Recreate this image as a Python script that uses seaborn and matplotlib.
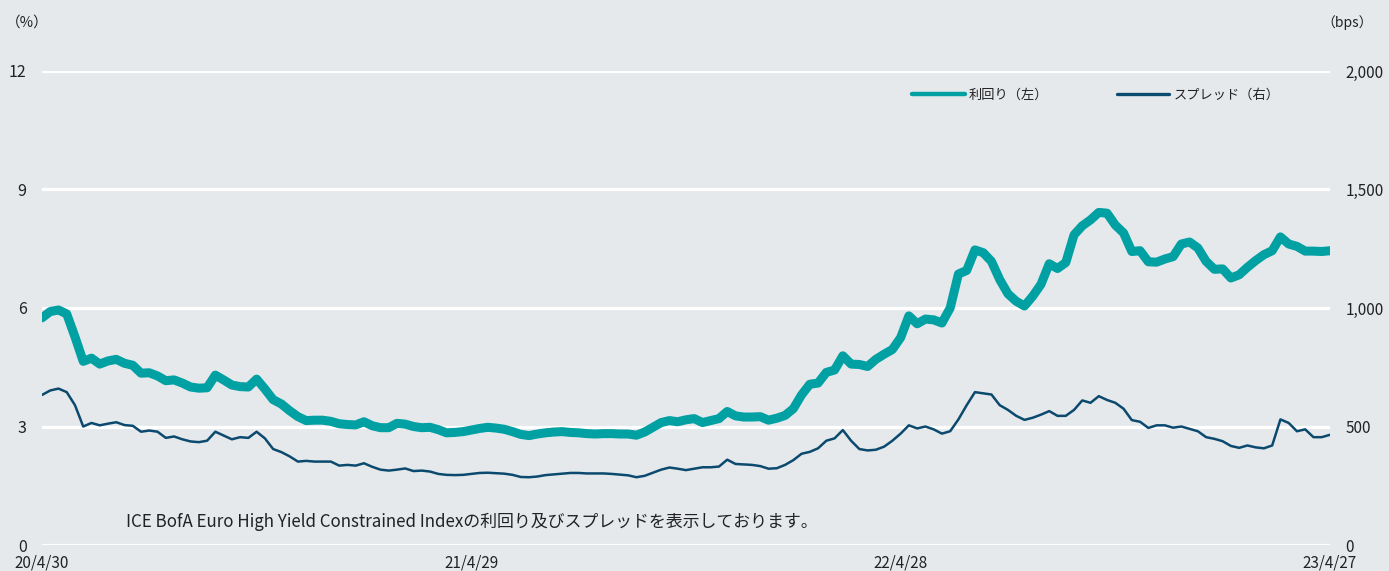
import matplotlib
matplotlib.use("Agg")
import matplotlib.pyplot as plt
from matplotlib.lines import Line2D
import seaborn as sns
import pandas as pd

# weekly observations, 2020/4/30 - 2023/4/27
dates = pd.date_range("2020-04-30", "2023-04-27", freq="7D")

yield_pct = [
    5.75, 5.91, 5.95, 5.85, 5.27, 4.65, 4.73, 4.58, 4.66, 4.70,
    4.60, 4.55, 4.35, 4.36, 4.28, 4.16, 4.18, 4.10, 4.00, 3.97,
    3.98, 4.30, 4.18, 4.05, 4.01, 4.00, 4.20, 3.95, 3.68, 3.57,
    3.40, 3.25, 3.15, 3.16, 3.16, 3.13, 3.07, 3.05, 3.04, 3.12,
    3.02, 2.97, 2.97, 3.08, 3.06, 3.00, 2.97, 2.98, 2.92, 2.84,
    2.85, 2.87, 2.91, 2.95, 2.98, 2.96, 2.93, 2.87, 2.80, 2.77,
    2.81, 2.84, 2.86, 2.87, 2.85, 2.84, 2.82, 2.81, 2.82, 2.82,
    2.81, 2.81, 2.78, 2.86, 2.98, 3.10, 3.15, 3.12, 3.17, 3.20,
    3.10, 3.15, 3.20, 3.38, 3.27, 3.24, 3.24, 3.25, 3.16, 3.21,
    3.28, 3.45, 3.80, 4.07, 4.10, 4.37, 4.43, 4.79, 4.58, 4.57,
    4.52, 4.70, 4.83, 4.95, 5.25, 5.80, 5.60, 5.72, 5.70, 5.62,
    6.00, 6.86, 6.95, 7.47, 7.40, 7.18, 6.72, 6.36, 6.17, 6.05,
    6.30, 6.60, 7.12, 7.00, 7.15, 7.85, 8.08, 8.23, 8.42, 8.40,
    8.10, 7.90, 7.43, 7.45, 7.17, 7.16, 7.24, 7.30, 7.62, 7.67,
    7.52, 7.18, 6.98, 6.99, 6.76, 6.84, 7.03, 7.20, 7.35, 7.45,
    7.80, 7.62, 7.56, 7.44, 7.44, 7.43, 7.45,
]

spread_bps = [
    633, 652, 660, 645, 590, 500, 515, 505, 512, 518,
    506, 503, 478, 483, 478, 452, 458, 446, 437, 434,
    440, 478, 462, 446, 455, 452, 478, 450, 405, 392,
    374, 352, 355, 352, 352, 352, 335, 338, 335, 345,
    330, 318, 314, 318, 323, 312, 314, 310, 300, 296,
    295, 296, 300, 304, 305, 303, 301, 296, 287, 286,
    289, 295, 298, 301, 304, 304, 302, 302, 302, 300,
    297, 294, 286, 292, 305, 318, 327, 322, 316, 322,
    328, 328, 331, 360, 342, 340, 338, 333, 322, 324,
    338, 358, 385, 393, 408, 440, 450, 485, 440, 405,
    399, 402, 415, 440, 470, 505, 492, 500, 488, 470,
    480, 530, 590, 645, 640, 635, 590, 570, 545, 528,
    537, 550, 565, 545, 545, 570, 610, 600, 628, 612,
    600, 575, 527, 520, 494, 505, 505, 495, 500, 490,
    480, 455, 448, 438, 418, 410, 420, 412, 408, 420,
    530, 515, 480, 488, 455, 455, 465,
]

tick_dates = ["2020-04-30", "2021-04-29", "2022-04-28", "2023-04-27"]
tick_labels = ["20/4/30", "21/4/29", "22/4/28", "23/4/27"]
left_ticks = [0, 3, 6, 9, 12]
right_ticks = [0, 500, 1000, 1500, 2000]
right_labels = ["0", "500", "1,000", "1,500", "2,000"]

BG = "#E6E9EC"
TEAL = "#00A0A3"
NAVY = "#0B4A6E"
INK = "#222222"

sns.set_theme(style="white")
plt.rcParams["font.family"] = ["Noto Sans CJK JP", "DejaVu Sans"]
plt.rcParams["text.color"] = INK

df = pd.DataFrame({"date": dates, "yield": yield_pct, "spread": spread_bps})

fig = plt.figure(figsize=(13.89, 5.71), dpi=100, facecolor=BG)
ax = fig.add_axes([0.0302, 0.0455, 0.9273, 0.8302])
ax.set_facecolor(BG)
ax2 = ax.twinx()

for y in left_ticks:
    ax.axhline(y, color="white", lw=2.3, zorder=0)

sns.lineplot(data=df, x="date", y="yield", ax=ax, color=TEAL, lw=6.5,
             legend=False, solid_joinstyle="round", solid_capstyle="round")
sns.lineplot(data=df, x="date", y="spread", ax=ax2, color=NAVY, lw=1.8,
             legend=False)

ax.set_xlim(pd.Timestamp(tick_dates[0]), pd.Timestamp(tick_dates[-1]))
ax.set_ylim(0, 12)
ax2.set_ylim(0, 2000)

ax.set_yticks(left_ticks)
ax.set_yticklabels([str(v) for v in left_ticks])
ax2.set_yticks(right_ticks)
ax2.set_yticklabels(right_labels)
ax.set_xticks(pd.to_datetime(tick_dates))
ax.set_xticklabels(tick_labels)

ax.tick_params(axis="y", length=0, pad=11, labelsize=11.5, labelcolor=INK)
ax2.tick_params(axis="y", length=0, pad=11, labelsize=11, labelcolor=INK)
ax.tick_params(axis="x", length=0, pad=6.5, labelsize=11, labelcolor=INK)

for a in (ax, ax2):
    a.set_xlabel("")
    a.set_ylabel("")
    a.grid(False)
    for s in a.spines.values():
        s.set_visible(False)

fig.text(0.004, 0.961, "（%）", fontsize=10.5, va="center", ha="left")
fig.text(0.951, 0.961, "（bps）", fontsize=10, va="center", ha="left")

handles = [
    Line2D([], [], color=TEAL, lw=3.2, solid_capstyle="round"),
    Line2D([], [], color=NAVY, lw=2.4, solid_capstyle="round"),
]
ax2.legend(handles, ["利回り（左）", "スプレッド（右）"], ncol=2, frameon=False,
           loc="center", bbox_to_anchor=(0.818, 0.949), fontsize=9.5,
           handlelength=4.0, handletextpad=0.3, columnspacing=5.2)

ax2.text(0.065, 0.0485,
         "ICE BofA Euro High Yield Constrained Indexの利回り及びスプレッドを表示しております。",
         transform=ax.transAxes, fontsize=12.2, va="center", ha="left")

fig.savefig("out.png", dpi=100, facecolor=BG)
